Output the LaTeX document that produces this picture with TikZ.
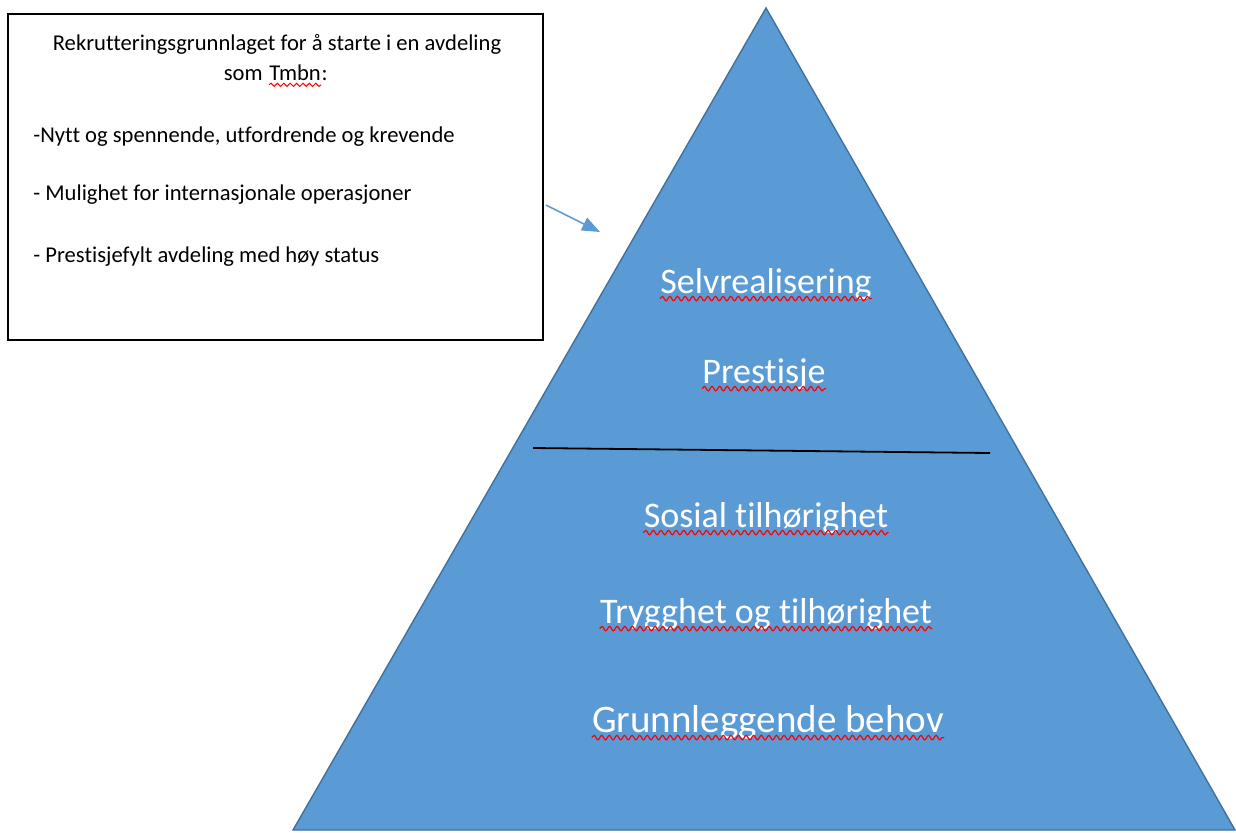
\documentclass[tikz,border=0pt]{standalone}
\usepackage{fontspec}
\setmainfont[Ligatures=NoCommon]{Carlito}
\usepackage{xcolor}
\usetikzlibrary{arrows.meta,decorations.pathmorphing}

\definecolor{pyrblaa}{HTML}{5B9BD5}
\definecolor{pyrkant}{HTML}{41719C}

\tikzset{
  boks/.style={draw=black, line width=0.9pt, fill=white, inner sep=0pt},
  tekst/.style={font=\fontsize{11.3}{13}\selectfont, inner sep=0pt, anchor=base},
  trinn/.style={font=\fontsize{18}{21}\selectfont, text=white, inner sep=0pt, anchor=base},
  krusell/.style={draw=red, line width=0.6pt, decorate, decoration={snake, amplitude=1.1pt, segment length=3.8pt}},
  pil/.style={draw=pyrblaa, line width=0.8pt, -{Triangle[length=9pt, width=7pt]}}
}

\begin{document}
\begin{tikzpicture}[x=0.5pt,y=-0.5pt]
\useasboundingbox (0,0) rectangle (1236,832);

\coordinate (topp) at (766,8);
\coordinate (vbunn) at (293,830);
\coordinate (hbunn) at (1235,830);
\filldraw [fill=pyrblaa, draw=pyrkant, line width=0.7pt] (topp) -- (hbunn) -- (vbunn) -- cycle; %pyramide
\coordinate (skille1) at (533,448);
\coordinate (skille2) at (990,453);
\draw [line width=0.9pt] (skille1) -- (skille2); %skillelinje

\node[trinn] (selv) at (766,293) {Selvrealisering};
\node[trinn] (prest) at (764,383) {Prestisje};
\node[trinn] (sosial) at (766,527) {Sosial tilhørighet};
\node[trinn] (trygg) at (766,623) {Trygghet og tilhørighet};
\node[trinn, font=\fontsize{19.5}{22}\selectfont] (grunn) at (768,732) {Grunnleggende behov};
\foreach \ord in {selv,prest,sosial,trygg,grunn}
  \draw [krusell] ([yshift=-2.8pt]\ord.base west) -- ([yshift=-2.8pt]\ord.base east);

%tekstboks
\node[boks, minimum width=267.5pt, minimum height=163pt] (rekrutt) at (275.5,177) {};
\node[tekst] (overskrift) at (277,50) {Rekrutteringsgrunnlaget for å starte i en avdeling};
\node[tekst, anchor=base east] (som) at (263,80) {som};
\node[tekst, anchor=base west] (tmbn) at ([xshift=3pt]som.base east) {Tmbn};
\node[tekst, anchor=base west] (kolon) at (tmbn.base east) {:};
\draw [krusell, line width=0.5pt, decoration={amplitude=0.8pt, segment length=3.2pt}] ([yshift=-2.4pt]tmbn.base west) -- ([yshift=-2.4pt]tmbn.base east);
\node[tekst, anchor=base west] (punkt1) at (33,142) {-Nytt og spennende, utfordrende og krevende};
\node[tekst, anchor=base west] (punkt2) at (33,200) {- Mulighet for internasjonale operasjoner};
\node[tekst, anchor=base west] (punkt3) at (33,262) {- Prestisjefylt avdeling med høy status};

\coordinate (spiss) at (600,232);
\draw [pil] ([shift={(1pt,-14pt)}]rekrutt.east) -- (spiss);
\end{tikzpicture}
\end{document}
